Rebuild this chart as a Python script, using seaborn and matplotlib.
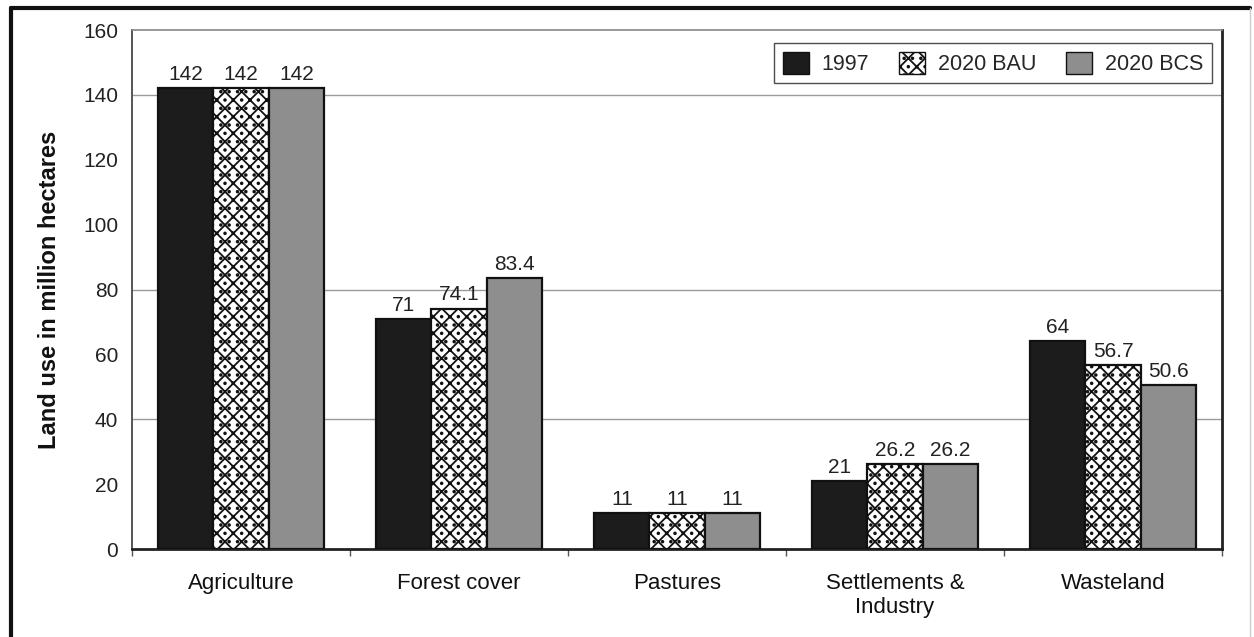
import matplotlib
matplotlib.use("Agg")
import matplotlib.pyplot as plt
from matplotlib.patches import Patch
from matplotlib.lines import Line2D
import seaborn as sns
import pandas as pd

categories = ["Agriculture", "Forest cover", "Pastures", "Settlements &\nIndustry", "Wasteland"]
scenarios = ["1997", "2020 BAU", "2020 BCS"]
values_1997 = [142, 71, 11, 21, 64]
values_bau = [142, 74.1, 11, 26.2, 56.7]
values_bcs = [142, 83.4, 11, 26.2, 50.6]
y_ticks = [0, 20, 40, 60, 80, 100, 120, 140, 160]

df = pd.DataFrame({
    "category": categories * 3,
    "scenario": [s for s in scenarios for _ in categories],
    "value": values_1997 + values_bau + values_bcs,
})

sns.set_style("white")
plt.rcParams["font.family"] = ["Liberation Sans", "DejaVu Sans"]
plt.rcParams["hatch.linewidth"] = 1.3

fills = ["#1c1c1c", "#ffffff", "#8e8e8e"]
hatches = [None, "xx..", None]

fig = plt.figure(figsize=(12.54, 6.37), dpi=100)
ax = fig.add_axes([0.1053, 0.1381, 0.8692, 0.8148])

sns.barplot(data=df, x="category", y="value", hue="scenario", order=categories,
            hue_order=scenarios, palette=fills, edgecolor="#111111", linewidth=1.6,
            width=0.76, gap=0, saturation=1, legend=False, ax=ax, zorder=3)

for cont, h in zip(ax.containers, hatches):
    for p in cont.patches:
        if h:
            p.set_hatch(h)
    ax.bar_label(cont, labels=[f"{v:g}" for v in cont.datavalues], padding=3,
                 fontsize=15, color="#222222")

# horizontal reference lines
for g in [40, 80, 140]:
    ax.axhline(g, color="#9a9a9a", linewidth=1.0, zorder=1)

ax.set_ylim(0, 160)
ax.set_xlim(-0.5, len(categories) - 0.5)
ax.set_yticks(y_ticks)
ax.set_yticks([0, 40, 80, 140, 160], minor=True)
ax.tick_params(axis="y", which="major", length=0, pad=10, labelsize=15, labelcolor="#222222")
ax.tick_params(axis="y", which="minor", length=7, width=1, color="#777777", direction="out", left=True)
ax.set_xticks(range(len(categories)))
ax.set_xticklabels(categories)
ax.set_xticks([i - 0.5 for i in range(len(categories) + 1)], minor=True)
ax.tick_params(axis="x", which="major", length=0, pad=17, labelsize=16, labelcolor="#111111")
ax.tick_params(axis="x", which="minor", length=5, width=1, color="#555555", direction="out", bottom=True)

ax.set_xlabel("")
ax.set_ylabel("Land use in million hectares", fontsize=17, fontweight="bold",
              labelpad=16, color="#111111")

for side, col, lw in [("left", "#555555", 1.4), ("top", "#888888", 1.2),
                      ("right", "#222222", 2.0), ("bottom", "#222222", 2.0)]:
    ax.spines[side].set_visible(True)
    ax.spines[side].set_color(col)
    ax.spines[side].set_linewidth(lw)

handles = [Patch(facecolor=c, edgecolor="#111111", hatch=h, linewidth=1.0)
           for c, h in zip(fills, hatches)]
leg = ax.legend(handles, scenarios, ncol=3, loc="upper right",
                bbox_to_anchor=(0.991, 0.975), borderaxespad=0, frameon=True, fancybox=False,
                fontsize=15.5, handlelength=1.2, handleheight=1.2, columnspacing=1.4,
                handletextpad=0.6, borderpad=0.4, edgecolor="#222222")
leg.get_frame().set_linewidth(1.0)

# outer frame
W, H = 1254, 637
fig.add_artist(Line2D([11 / W, 11 / W], [0, 1 - 8 / H], color="#111111", linewidth=3.0))
fig.add_artist(Line2D([11 / W, 1250 / W], [1 - 8 / H, 1 - 8 / H], color="#111111", linewidth=3.0))
fig.add_artist(Line2D([1250 / W, 1250 / W], [0, 1 - 8 / H], color="#cccccc", linewidth=1.0))

fig.savefig("out.png", dpi=100, facecolor="white")
